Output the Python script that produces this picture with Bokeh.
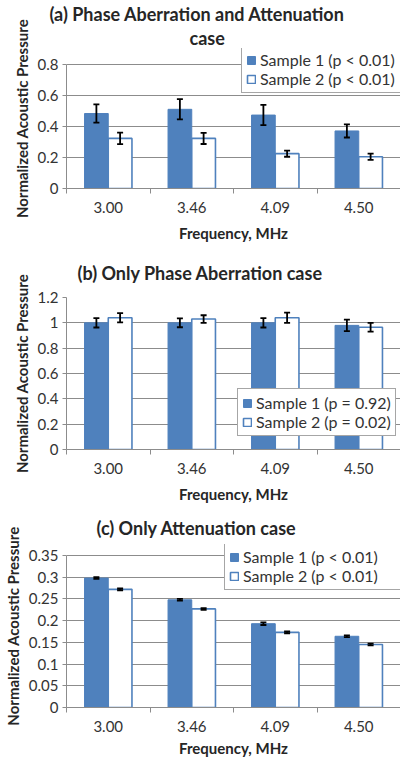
from bokeh.plotting import figure
from bokeh.layouts import column
from bokeh.models import (Range1d, FixedTicker, Title, Legend, LegendItem, Whisker,
                          TeeHead, ColumnDataSource, CustomJSTickFormatter)
from bokeh.embed import file_html
from bokeh.resources import INLINE

# ---------------- data ----------------
freqs = ["3.00", "3.46", "4.09", "4.50"]

a_s1 = [0.482, 0.509, 0.472, 0.370]
a_s1_err = [0.059, 0.065, 0.065, 0.042]
a_s2 = [0.322, 0.322, 0.224, 0.204]
a_s2_err = [0.037, 0.036, 0.020, 0.020]
a_labels = ["Sample 1 (p < 0.01)", "Sample 2 (p < 0.01)"]
a_yticks = [0, 0.2, 0.4, 0.6, 0.8]

b_s1 = [1.000, 1.000, 1.000, 0.980]
b_s1_err = [0.037, 0.035, 0.037, 0.045]
b_s2 = [1.040, 1.030, 1.040, 0.965]
b_s2_err = [0.037, 0.030, 0.040, 0.035]
b_labels = ["Sample 1 (p = 0.92)", "Sample 2 (p = 0.02)"]
b_yticks = [0, 0.2, 0.4, 0.6, 0.8, 1, 1.2]

c_s1 = [0.298, 0.248, 0.193, 0.164]
c_s1_err = [0.002, 0.002, 0.003, 0.002]
c_s2 = [0.272, 0.227, 0.173, 0.145]
c_s2_err = [0.002, 0.002, 0.002, 0.002]
c_labels = ["Sample 1 (p < 0.01)", "Sample 2 (p < 0.01)"]
c_yticks = [0, 0.05, 0.1, 0.15, 0.2, 0.25, 0.3, 0.35]

# ---------------- style ----------------
BLUE = "#4F81BD"
GRID = "#8c8c8c"
TXT = "#262626"
FONT = "Lato"
BAR_W = 0.284
LEFT = 62
WIDTH = 400


def make_panel(titles, s1, e1, s2, e2, yticks, labels, legend_xy, label_w,
               above, frame_h, extra, below, xlab_standoff):
    n = len(freqs)
    ymax = yticks[-1]
    y_end = ymax * frame_h / (frame_h - extra)
    p = figure(width=WIDTH, height=above + frame_h + below,
               x_range=Range1d(0, n), y_range=Range1d(0, y_end),
               output_backend="svg", toolbar_location=None,
               min_border_left=LEFT, min_border_right=0,
               min_border_top=above, min_border_bottom=below)
    p.outline_line_color = None
    p.background_fill_color = "white"
    p.border_fill_color = "white"

    # titles (first added sits closest to the plot)
    for text, off, stand in titles:
        p.add_layout(Title(text=text, align="left", offset=off, standoff=stand,
                           text_font=FONT, text_font_size="18px",
                           text_font_style="bold", text_color=TXT), "above")

    x1 = [i + 0.5 - BAR_W / 2 for i in range(n)]
    x2 = [i + 0.5 + BAR_W / 2 for i in range(n)]
    src1 = ColumnDataSource(dict(x=x1, top=s1,
                                 upper=[v + e for v, e in zip(s1, e1)],
                                 lower=[v - e for v, e in zip(s1, e1)]))
    src2 = ColumnDataSource(dict(x=x2, top=s2,
                                 upper=[v + e for v, e in zip(s2, e2)],
                                 lower=[v - e for v, e in zip(s2, e2)]))
    r1 = p.vbar(x="x", top="top", width=BAR_W, source=src1,
                fill_color=BLUE, line_color=BLUE, line_width=1)
    r2 = p.vbar(x="x", top="top", width=BAR_W, source=src2,
                fill_color="white", line_color=BLUE, line_width=1.6)

    for src in (src1, src2):
        w = Whisker(source=src, base="x", upper="upper", lower="lower",
                    line_color="black", line_width=1.8, level="annotation",
                    upper_head=TeeHead(size=6, line_color="black", line_width=1.8),
                    lower_head=TeeHead(size=6, line_color="black", line_width=1.8))
        p.add_layout(w)

    # axes
    p.yaxis.ticker = FixedTicker(ticks=yticks)
    p.yaxis.formatter = CustomJSTickFormatter(code="return String(tick);")
    p.yaxis.bounds = (0, ymax)
    p.yaxis.axis_label = "Normalized Acoustic Pressure"
    p.xaxis.ticker = FixedTicker(ticks=[i + 0.5 for i in range(n)],
                                 minor_ticks=list(range(n + 1)))
    p.xaxis.major_label_overrides = {i + 0.5: f for i, f in enumerate(freqs)}
    p.xaxis.axis_label = "Frequency, MHz"
    p.xaxis.major_tick_out = 0
    p.xaxis.minor_tick_out = 5
    p.xaxis.minor_tick_in = 0
    p.yaxis.major_tick_out = 4
    p.yaxis.major_tick_in = 0
    for ax in (p.xaxis, p.yaxis):
        ax.axis_line_color = GRID
        ax.major_label_text_font = FONT
        ax.major_label_text_font_size = "15px"
        ax.major_label_text_color = "#333333"
        ax.axis_label_text_font = FONT
        ax.axis_label_text_font_size = "15px"
        ax.axis_label_text_font_style = "bold"
        ax.axis_label_text_color = TXT
    p.xaxis.major_tick_line_color = None
    p.xaxis.minor_tick_line_color = GRID
    p.yaxis.major_tick_line_color = GRID
    p.yaxis.minor_tick_line_color = None
    p.xaxis.major_label_standoff = 8
    p.xaxis.axis_label_standoff = xlab_standoff
    p.yaxis.major_label_standoff = 4
    p.yaxis.axis_label_standoff = 4
    p.xgrid.grid_line_color = None
    p.ygrid.grid_line_color = GRID
    p.ygrid.grid_line_width = 1

    legend = Legend(items=[LegendItem(label=labels[0], renderers=[r1]),
                           LegendItem(label=labels[1], renderers=[r2])],
                    location=legend_xy, orientation="vertical",
                    border_line_color="#4d4d4d", border_line_width=1,
                    background_fill_color="white", background_fill_alpha=1,
                    padding=4, spacing=0, margin=0,
                    glyph_width=10, glyph_height=10, label_height=18,
                    label_width=label_w,
                    label_standoff=4, label_text_font=FONT,
                    label_text_font_size="16px", label_text_color="#333333")
    p.add_layout(legend)
    return p


pa = make_panel([("case", 123, 0), ("(a) Phase Aberration and Attenuation", -17, 0)],
                a_s1, a_s1_err, a_s2, a_s2_err, a_yticks, a_labels, (175, 95), 139,
                44, 144, 16, 57, 8)
pb = make_panel([("(b) Only Phase Aberration case", 11, 28)],
                b_s1, b_s1_err, b_s2, b_s2_err, b_yticks, b_labels, (171, 13), 128,
                52, 152, 0, 57, 8)
pc = make_panel([("(c) Only Attenuation case", 30, 11)],
                c_s1, c_s1_err, c_s2, c_s2_err, c_yticks, c_labels, (158, 117), 154,
                38, 163, 11, 53, 4)

layout = column(pa, pb, pc, spacing=0)
open("out.html", "w").write(file_html(layout, INLINE))
